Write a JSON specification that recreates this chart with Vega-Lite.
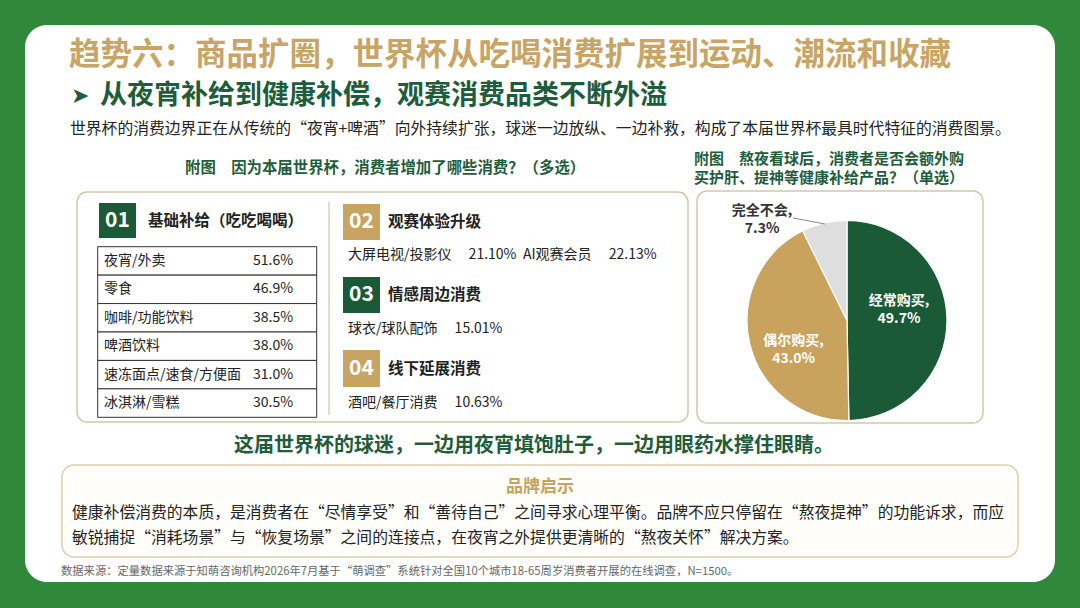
{
  "$schema": "https://vega.github.io/schema/vega-lite/v6.json",
  "width": 1080,
  "height": 608,
  "autosize": {"type": "fit", "contains": "padding"},
  "padding": 0,
  "background": "#30893a",
  "config": {"view": {"stroke": null}, "font": "Noto Sans CJK SC", "text": {"font": "Noto Sans CJK SC"}},
  "resolve": {"scale": {"y": "independent"}},
  "layer": [
    {
      "data": {"values": [{}]},
      "layer": [
        {"mark": {"type": "rect", "fill": "#ffffff", "cornerRadius": 22},
         "encoding": {
           "x": {"datum": 25, "scale": {"domain": [0, 1080], "nice": false, "zero": false}, "axis": null},
           "x2": {"datum": 1055},
           "y": {"datum": 25, "scale": {"domain": [0, 608], "reverse": true, "nice": false, "zero": false}, "axis": null},
           "y2": {"datum": 582}}},
        {"mark": {"type": "text", "text": "趋势六：商品扩圈，世界杯从吃喝消费扩展到运动、潮流和收藏", "align": "left", "baseline": "middle", "fontSize": 31.5, "fontWeight": "bold", "color": "#c8a566"},
         "encoding": {"x": {"datum": 69}, "y": {"datum": 56}}},
        {"mark": {"type": "text", "text": "➤", "font": "DejaVu Sans", "align": "left", "baseline": "middle", "fontSize": 22, "color": "#1f5c3b"},
         "encoding": {"x": {"datum": 71}, "y": {"datum": 96}}},
        {"mark": {"type": "text", "text": "从夜宵补给到健康补偿，观赛消费品类不断外溢", "align": "left", "baseline": "middle", "fontSize": 27, "fontWeight": "bold", "color": "#1f5c3b"},
         "encoding": {"x": {"datum": 100}, "y": {"datum": 96}}},
        {"mark": {"type": "text", "text": "世界杯的消费边界正在从传统的“夜宵+啤酒”向外持续扩张，球迷一边放纵、一边补救，构成了本届世界杯最具时代特征的消费图景。", "align": "left", "baseline": "middle", "fontSize": 15.8, "color": "#222222"},
         "encoding": {"x": {"datum": 70}, "y": {"datum": 129}}},
        {"mark": {"type": "text", "text": "附图\u3000因为本届世界杯，消费者增加了哪些消费？（多选）", "align": "left", "baseline": "middle", "fontSize": 15.4, "fontWeight": "bold", "color": "#1f5c3b"},
         "encoding": {"x": {"datum": 185}, "y": {"datum": 168}}},
        {"mark": {"type": "text", "text": "附图\u3000熬夜看球后，消费者是否会额外购", "align": "left", "baseline": "middle", "fontSize": 15, "fontWeight": "bold", "color": "#1f5c3b"},
         "encoding": {"x": {"datum": 694}, "y": {"datum": 159}}},
        {"mark": {"type": "text", "text": "买护肝、提神等健康补给产品？（单选）", "align": "left", "baseline": "middle", "fontSize": 15, "fontWeight": "bold", "color": "#1f5c3b"},
         "encoding": {"x": {"datum": 694}, "y": {"datum": 178}}},
        {"mark": {"type": "rect", "fill": "#ffffff", "stroke": "#d4c8a8", "strokeWidth": 1.5, "cornerRadius": 10},
         "encoding": {"x": {"datum": 77}, "x2": {"datum": 688}, "y": {"datum": 192}, "y2": {"datum": 422}}},
        {"mark": {"type": "rect", "fill": "#ffffff", "stroke": "#d4c8a8", "strokeWidth": 1.5, "cornerRadius": 10},
         "encoding": {"x": {"datum": 697}, "x2": {"datum": 983}, "y": {"datum": 191}, "y2": {"datum": 423}}},
        {"mark": {"type": "rule", "color": "#cfc6ad", "strokeWidth": 1.2},
         "encoding": {"x": {"datum": 329}, "y": {"datum": 202}, "y2": {"datum": 415}}},
        {"mark": {"type": "rect", "fill": "#1b5a36"},
         "encoding": {"x": {"datum": 99}, "x2": {"datum": 136}, "y": {"datum": 203}, "y2": {"datum": 238}}},
        {"mark": {"type": "rect", "fill": "#c8a462"},
         "encoding": {"x": {"datum": 343}, "x2": {"datum": 380}, "y": {"datum": 204}, "y2": {"datum": 240}}},
        {"mark": {"type": "rect", "fill": "#1b5a36"},
         "encoding": {"x": {"datum": 343}, "x2": {"datum": 380}, "y": {"datum": 277}, "y2": {"datum": 313}}},
        {"mark": {"type": "rect", "fill": "#c8a462"},
         "encoding": {"x": {"datum": 343}, "x2": {"datum": 380}, "y": {"datum": 350}, "y2": {"datum": 387}}},
        {"mark": {"type": "text", "text": "01", "align": "center", "baseline": "middle", "fontSize": 21, "fontWeight": "bold", "color": "#ffffff"},
         "encoding": {"x": {"datum": 117.5}, "y": {"datum": 221}}},
        {"mark": {"type": "text", "text": "02", "align": "center", "baseline": "middle", "fontSize": 21, "fontWeight": "bold", "color": "#ffffff"},
         "encoding": {"x": {"datum": 361.5}, "y": {"datum": 222}}},
        {"mark": {"type": "text", "text": "03", "align": "center", "baseline": "middle", "fontSize": 21, "fontWeight": "bold", "color": "#ffffff"},
         "encoding": {"x": {"datum": 361.5}, "y": {"datum": 295}}},
        {"mark": {"type": "text", "text": "04", "align": "center", "baseline": "middle", "fontSize": 21, "fontWeight": "bold", "color": "#ffffff"},
         "encoding": {"x": {"datum": 361.5}, "y": {"datum": 368.5}}},
        {"mark": {"type": "text", "text": "基础补给（吃吃喝喝）", "align": "left", "baseline": "middle", "fontSize": 15.5, "fontWeight": "bold", "color": "#222222"},
         "encoding": {"x": {"datum": 148}, "y": {"datum": 221}}},
        {"mark": {"type": "text", "text": "观赛体验升级", "align": "left", "baseline": "middle", "fontSize": 15.5, "fontWeight": "bold", "color": "#222222"},
         "encoding": {"x": {"datum": 388}, "y": {"datum": 222}}},
        {"mark": {"type": "text", "text": "情感周边消费", "align": "left", "baseline": "middle", "fontSize": 15.5, "fontWeight": "bold", "color": "#222222"},
         "encoding": {"x": {"datum": 388}, "y": {"datum": 295}}},
        {"mark": {"type": "text", "text": "线下延展消费", "align": "left", "baseline": "middle", "fontSize": 15.5, "fontWeight": "bold", "color": "#222222"},
         "encoding": {"x": {"datum": 388}, "y": {"datum": 368.5}}},
        {"data": {"values": [
            {"answer": "经常购买", "share": 0.497},
            {"answer": "偶尔购买", "share": 0.430},
            {"answer": "完全不会", "share": 0.073}
          ]},
         "encoding": {
           "theta": {"field": "share", "type": "quantitative", "stack": true},
           "order": {"field": "share", "sort": "descending"},
           "x": {"datum": 847},
           "y": {"datum": 320.5}},
         "layer": [
           {"mark": {"type": "arc", "outerRadius": 100, "stroke": "#ffffff", "strokeWidth": 1.2},
            "encoding": {
              "color": {"field": "answer", "type": "nominal", "scale": {"domain": ["经常购买", "偶尔购买", "完全不会"], "range": ["#1b5a36", "#c9a35e", "#dedede"]}, "legend": null}}},
           {"mark": {"type": "text", "align": "center", "baseline": "middle", "fontSize": 14, "fontWeight": "bold",
              "radius": {"expr": "datum.answer === '完全不会' ? 105 : (datum.answer === '经常购买' ? 52 : 55)"},
              "dx": {"expr": "datum.answer === '完全不会' ? -61 : 0"},
              "dy": {"expr": "datum.answer === '完全不会' ? -7 : (datum.answer === '经常购买' ? -19 : 7)"},
              "fill": {"expr": "datum.answer === '完全不会' ? '#333333' : '#ffffff'"},
              "text": {"expr": "datum.answer + ','"}}},
           {"mark": {"type": "text", "align": "center", "baseline": "middle", "fontSize": 14, "fontWeight": "bold",
              "radius": {"expr": "datum.answer === '完全不会' ? 105 : (datum.answer === '经常购买' ? 52 : 55)"},
              "dx": {"expr": "datum.answer === '完全不会' ? -61 : 0"},
              "dy": {"expr": "datum.answer === '完全不会' ? 11 : (datum.answer === '经常购买' ? -1 : 25)"},
              "fill": {"expr": "datum.answer === '完全不会' ? '#333333' : '#ffffff'"}},
            "encoding": {"text": {"field": "share", "type": "quantitative", "format": ".1%"}}}
         ]},
        {"mark": {"type": "rule", "color": "#8a8a8a", "strokeWidth": 1},
         "encoding": {"x": {"datum": 793}, "x2": {"datum": 825}, "y": {"datum": 218}, "y2": {"datum": 224}}},
        {"mark": {"type": "text", "text": "这届世界杯的球迷，一边用夜宵填饱肚子，一边用眼药水撑住眼睛。", "align": "center", "baseline": "middle", "fontSize": 20, "fontWeight": "bold", "color": "#1f5c3b"},
         "encoding": {"x": {"datum": 534}, "y": {"datum": 446}}},
        {"mark": {"type": "rect", "fill": "#fffefa", "stroke": "#dccfae", "strokeWidth": 1.5, "cornerRadius": 12},
         "encoding": {"x": {"datum": 62}, "x2": {"datum": 1018}, "y": {"datum": 465}, "y2": {"datum": 557}}},
        {"mark": {"type": "text", "text": "品牌启示", "align": "center", "baseline": "middle", "fontSize": 17, "fontWeight": "bold", "color": "#c6a25e"},
         "encoding": {"x": {"datum": 540}, "y": {"datum": 487}}},
        {"mark": {"type": "text", "text": "健康补偿消费的本质，是消费者在“尽情享受”和“善待自己”之间寻求心理平衡。品牌不应只停留在“熬夜提神”的功能诉求，而应", "align": "left", "baseline": "middle", "fontSize": 15.8, "color": "#222222"},
         "encoding": {"x": {"datum": 72}, "y": {"datum": 513}}},
        {"mark": {"type": "text", "text": "敏锐捕捉“消耗场景”与“恢复场景”之间的连接点，在夜宵之外提供更清晰的“熬夜关怀”解决方案。", "align": "left", "baseline": "middle", "fontSize": 15.8, "color": "#222222"},
         "encoding": {"x": {"datum": 72}, "y": {"datum": 538}}},
        {"mark": {"type": "text", "text": "数据来源：定量数据来源于知萌咨询机构2026年7月基于“萌调查”系统针对全国10个城市18-65周岁消费者开展的在线调查，N=1500。", "align": "left", "baseline": "middle", "fontSize": 11.3, "color": "#666666"},
         "encoding": {"x": {"datum": 61}, "y": {"datum": 572}}}
      ]
    },
    {
      "data": {"values": [
        {"item": "夜宵/外卖", "share": 0.516},
        {"item": "零食", "share": 0.469},
        {"item": "咖啡/功能饮料", "share": 0.385},
        {"item": "啤酒饮料", "share": 0.380},
        {"item": "速冻面点/速食/方便面", "share": 0.310},
        {"item": "冰淇淋/雪糕", "share": 0.305}
      ]},
      "layer": [
        {"mark": {"type": "rect", "fill": "#ffffff", "stroke": "#333333", "strokeWidth": 1},
         "encoding": {
           "y": {"field": "item", "type": "nominal", "sort": null, "scale": {"type": "band", "range": [246.7, 417.3], "paddingInner": 0, "paddingOuter": 0}, "axis": null},
           "x": {"datum": 97.7},
           "x2": {"datum": 316.7}}},
        {"mark": {"type": "text", "align": "left", "baseline": "middle", "fontSize": 14, "color": "#222222"},
         "encoding": {
           "y": {"field": "item", "type": "nominal", "sort": null},
           "x": {"datum": 104},
           "text": {"field": "item", "type": "nominal"}}},
        {"mark": {"type": "text", "align": "left", "baseline": "middle", "fontSize": 14, "color": "#222222"},
         "encoding": {
           "y": {"field": "item", "type": "nominal", "sort": null},
           "x": {"datum": 253},
           "text": {"field": "share", "type": "quantitative", "format": ".1%"}}}
      ]
    },
    {
      "data": {"values": [
        {"group": "观赛体验升级", "item": "大屏电视/投影仪", "share": 0.2110},
        {"group": "观赛体验升级", "item": "AI观赛会员", "share": 0.2213},
        {"group": "情感周边消费", "item": "球衣/球队配饰", "share": 0.1501},
        {"group": "线下延展消费", "item": "酒吧/餐厅消费", "share": 0.1063}
      ]},
      "layer": [
        {"transform": [{"filter": "datum.item !== 'AI观赛会员'"}],
         "mark": {"type": "text", "align": "left", "baseline": "middle", "fontSize": 14, "color": "#222222", "text": {"expr": "datum.item + '\u2003 ' + format(datum.share, '.2%')"}},
         "encoding": {
           "y": {"field": "group", "type": "nominal", "sort": ["观赛体验升级", "情感周边消费", "线下延展消费"], "scale": {"type": "point", "domain": ["观赛体验升级", "情感周边消费", "线下延展消费"], "range": [255, 403], "padding": 0}, "axis": null},
           "x": {"datum": 348}}},
        {"transform": [{"filter": "datum.item === 'AI观赛会员'"}],
         "mark": {"type": "text", "align": "left", "baseline": "middle", "fontSize": 14, "color": "#222222", "text": {"expr": "datum.item + '\u2003 ' + format(datum.share, '.2%')"}},
         "encoding": {
           "y": {"field": "group", "type": "nominal", "sort": ["观赛体验升级", "情感周边消费", "线下延展消费"]},
           "x": {"datum": 523}}}
      ]
    }
  ]
}
